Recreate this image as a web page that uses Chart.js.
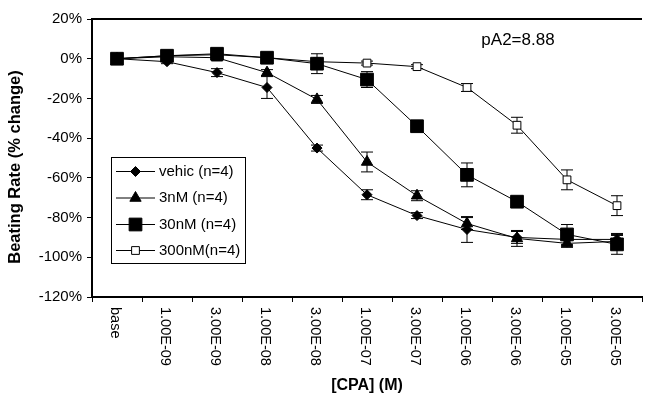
<!DOCTYPE html>
<html>
<head>
<meta charset="utf-8">
<script src="https://cdn.jsdelivr.net/npm/chart.js@4/dist/chart.umd.min.js"></script>
<style>
    html, body { margin: 0; padding: 0; background: #fff; overflow: hidden; }
    #wrap { width: 652px; height: 396px; position: relative; }
</style>
</head>
<body>
<div id="wrap"><canvas id="cpaChart"></canvas></div>
<script>
// CPA concentrations (x categories)
const doseLabels = ['base', '1.00E-09', '3.00E-09', '1.00E-08', '3.00E-08', '1.00E-07',
    '3.00E-07', '1.00E-06', '3.00E-06', '1.00E-05', '3.00E-05'];

// Beating rate, % change, and SEM for each antagonist group
const vehicValues = [0, -1.5, -7, -14.5, -45, -68.5, -79, -86, -90, -91, -91];
const vehicErrors = [0, 1, 2, 5.5, 1.5, 2.5, 1.5, 6.5, 3, 3, 3];
const nm3Values = [0, 1, 0.5, -7, -20.5, -52, -69, -83, -90.5, -93, -92];
const nm3Errors = [0, 1, 1, 1.5, 2, 5, 2.5, 3, 4, 2, 3];
const nm30Values = [0, 1.5, 2.5, 0.5, -2.5, -10.5, -34, -58.5, -72, -88.5, -93.5];
const nm30Errors = [0, 1, 1, 1, 5, 4, 2, 6, 2, 5, 5];
const nm300Values = [0, 1.5, 2, 0.5, -1.5, -2.2, -4, -14.5, -33.5, -61, -74];
const nm300Errors = [0, 0, 0, 0, 0, 1, 1, 2, 4, 5, 5];

const yTicks = [20, 0, -20, -40, -60, -80, -100, -120];
const seriesNames = ['vehic (n=4)', '3nM (n=4)', '30nM (n=4)', '300nM(n=4)'];
const pA2Text = 'pA2=8.88';

const FONT = 'Arial, "Liberation Sans", sans-serif';

// marker look per series
const markers = [
    { pointStyle: 'rectRot', radius: 5, bg: '#000' },
    { pointStyle: 'triangle', radius: 6.5, bg: '#000' },
    { pointStyle: 'rect', radius: 9, bg: '#000' },
    { pointStyle: 'rect', radius: 5.5, bg: '#fff' }
];

function makeDataset(i, values, errors, order) {
    return {
        label: seriesNames[i],
        data: values,
        errors: errors,
        order: order,
        borderColor: '#000',
        borderWidth: 1,
        pointStyle: markers[i].pointStyle,
        pointRadius: markers[i].radius,
        pointHoverRadius: markers[i].radius,
        pointBackgroundColor: markers[i].bg,
        pointBorderColor: '#000',
        pointBorderWidth: 1,
        tension: 0,
        fill: false
    };
}

// error bars drawn under the markers
const errorBarPlugin = {
    id: 'errorBars',
    beforeDatasetsDraw(chart) {
        const ctx = chart.ctx;
        const y = chart.scales.y;
        ctx.save();
        ctx.strokeStyle = '#000';
        ctx.lineWidth = 1;
        chart.data.datasets.forEach((ds, i) => {
            const meta = chart.getDatasetMeta(i);
            ds.errors.forEach((e, j) => {
                if (!e) return;
                const px = meta.data[j].x;
                const top = y.getPixelForValue(ds.data[j] + e);
                const bot = y.getPixelForValue(ds.data[j] - e);
                ctx.beginPath();
                ctx.moveTo(px, top); ctx.lineTo(px, bot);
                ctx.moveTo(px - 6, top); ctx.lineTo(px + 6, top);
                ctx.moveTo(px - 6, bot); ctx.lineTo(px + 6, bot);
                ctx.stroke();
            });
        });
        ctx.restore();
    }
};

// frame top, rotated x labels, axis titles, legend box, pA2 note
const decorPlugin = {
    id: 'decor',
    afterDraw(chart) {
        const ctx = chart.ctx;
        const area = chart.chartArea;
        const x = chart.scales.x;
        ctx.save();

        ctx.strokeStyle = '#000';
        ctx.lineWidth = 2;
        ctx.beginPath();
        ctx.moveTo(area.left, area.top);
        ctx.lineTo(area.right, area.top);
        ctx.stroke();

        ctx.fillStyle = '#000';
        ctx.font = '14.5px ' + FONT;
        ctx.textAlign = 'left';
        ctx.textBaseline = 'middle';
        doseLabels.forEach((lab, i) => {
            ctx.save();
            ctx.translate(x.getPixelForValue(i) - 2, area.bottom + 10);
            ctx.rotate(Math.PI / 2);
            ctx.fillText(lab, 0, 0);
            ctx.restore();
        });

        ctx.font = 'bold 16px ' + FONT;
        ctx.textAlign = 'center';
        ctx.fillText('[CPA] (M)', (area.left + area.right) / 2, 386);

        ctx.save();
        ctx.translate(15, 167);
        ctx.rotate(-Math.PI / 2);
        ctx.font = 'bold 16.5px ' + FONT;
        ctx.fillText('Beating Rate (% change)', 0, 0);
        ctx.restore();

        ctx.font = '17px ' + FONT;
        ctx.fillText(pA2Text, 518, 40);

        // legend
        ctx.lineWidth = 1;
        ctx.fillStyle = '#fff';
        ctx.fillRect(111.5, 157.5, 134, 106);
        ctx.strokeRect(111.5, 157.5, 134, 106);
        const rows = [171.5, 198, 224.5, 250.5];
        rows.forEach((ry, i) => {
            ctx.strokeStyle = '#000';
            ctx.beginPath();
            ctx.moveTo(116, ry); ctx.lineTo(155, ry);
            ctx.stroke();
            ctx.fillStyle = markers[i].bg;
            ctx.strokeStyle = '#000';
            Chart.helpers.drawPoint(ctx, {
                pointStyle: markers[i].pointStyle,
                radius: markers[i].radius,
                borderWidth: 1,
                rotation: 0
            }, 135.5, ry);
            ctx.fillStyle = '#000';
            ctx.font = '15px ' + FONT;
            ctx.textAlign = 'left';
            ctx.fillText(seriesNames[i], 159, ry);
        });

        ctx.restore();
    }
};

const ctx = document.getElementById('cpaChart').getContext('2d');
const chart = new Chart(ctx, {
    type: 'line',
    data: {
        labels: doseLabels,
        datasets: [
            makeDataset(0, vehicValues, vehicErrors, 3),
            makeDataset(1, nm3Values, nm3Errors, 2),
            makeDataset(2, nm30Values, nm30Errors, 0),
            makeDataset(3, nm300Values, nm300Errors, 1)
        ]
    },
    options: {
        responsive: true,
        maintainAspectRatio: false,
        animation: false,
        layout: { padding: { top: 19, left: 0, right: 1, bottom: 0 } },
        plugins: {
            legend: { display: false },
            tooltip: { enabled: false }
        },
        scales: {
            x: {
                type: 'category',
                offset: true,
                grid: { display: true, offset: true, drawOnChartArea: false, color: '#000', tickLength: 5 },
                border: { color: '#000', width: 2 },
                ticks: { display: false },
                afterFit(scale) { scale.height = 99; }
            },
            y: {
                min: -120,
                max: 20,
                grid: { drawOnChartArea: false, color: '#000', tickLength: 5 },
                border: { color: '#000', width: 2 },
                afterBuildTicks(scale) { scale.ticks = yTicks.map(v => ({ value: v })); },
                ticks: {
                    color: '#000',
                    padding: 5,
                    font: { family: FONT, size: 15 },
                    callback: value => value + '%'
                },
                afterFit(scale) { scale.width = 92; }
            }
        }
    },
    plugins: [errorBarPlugin, decorPlugin]
});
</script>
</body>
</html>
